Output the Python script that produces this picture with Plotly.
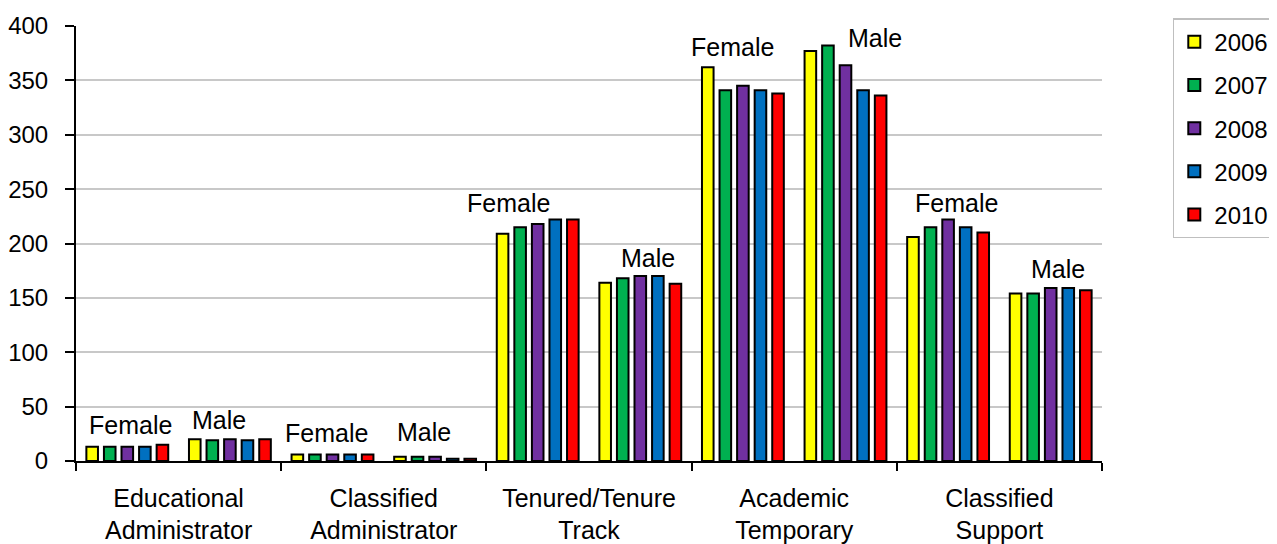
import plotly.graph_objects as go

# Data
categories = ["Educational<br>Administrator", "Classified<br>Administrator",
              "Tenured/Tenure<br>Track", "Academic<br>Temporary", "Classified<br>Support"]
genders = ["Female", "Male"]
years = ["2006", "2007", "2008", "2009", "2010"]

# one value per (category, gender) group, in order F, M, F, M, ...
v2006 = [13, 20, 6, 4, 209, 164, 362, 377, 206, 154]
v2007 = [13, 19, 6, 4, 215, 168, 341, 382, 215, 154]
v2008 = [13, 20, 6, 4, 218, 170, 345, 364, 222, 159]
v2009 = [13, 19, 6, 2, 222, 170, 341, 341, 215, 159]
v2010 = [15, 20, 6, 2, 222, 163, 338, 336, 210, 157]

series = [v2006, v2007, v2008, v2009, v2010]
colors = ["#FFFF00", "#00B050", "#7030A0", "#0070C0", "#FF0000"]

FONT = "Liberation Sans, Arial, sans-serif"
FS = 24

# label nudges (px) so the Female/Male texts sit like the original
label_dx = [3, -11, -6, -11, -29, 8, -10, 29, 8, 7]
label_dy = [20, 19, 21, 25, 17, 18, 20, 8, 17, 19]

groups = list(range(len(v2006)))

fig = go.Figure()
for i, (yr, vals) in enumerate(zip(years, series)):
    fig.add_bar(
        x=groups, y=vals, name=yr,
        marker=dict(color=colors[i], line=dict(color="black", width=2)),
        legendgroup=yr,
    )

for g in groups:
    top = max(s[g] for s in series)
    fig.add_annotation(
        x=g, y=top, text=genders[g % 2], showarrow=False,
        xref="x", yref="y", yanchor="middle",
        xshift=label_dx[g], yshift=label_dy[g],
        font=dict(family=FONT, size=25, color="black"),
    )

# page body adds an 8px offset, margins are trimmed to compensate
fig.update_layout(
    width=1277, height=544,
    margin=dict(l=68, r=181, t=10, b=91),
    paper_bgcolor="white", plot_bgcolor="white",
    barmode="group", bargap=0.144, bargroupgap=0.34,
    font=dict(family=FONT, size=FS, color="black"),
    legend=dict(
        x=1.069, y=1.018, xanchor="left", yanchor="top",
        bordercolor="#BFBFBF", borderwidth=1.5,
        font=dict(family=FONT, size=FS),
        tracegroupgap=9,
    ),
)

fig.update_xaxes(
    range=[-0.5, 9.5], automargin=False,
    tickvals=[0.5, 2.5, 4.5, 6.5, 8.5], ticktext=categories,
    ticks="", ticklabelstandoff=14,
    showline=True, linecolor="black", linewidth=1.5,
    showgrid=False, zeroline=False,
    minor=dict(ticks="outside", tick0=-0.5, dtick=2, ticklen=8,
               tickcolor="black", tickwidth=1.5, showgrid=False),
    tickfont=dict(family=FONT, size=25),
)
fig.update_yaxes(
    range=[0, 400], dtick=50, automargin=False,
    ticks="outside", ticklen=9, tickcolor="black", tickwidth=1.5,
    ticklabelstandoff=12,
    showline=True, linecolor="black", linewidth=2,
    showgrid=True, gridcolor="#C8C8C8", gridwidth=1.5,
    zeroline=False,
    tickfont=dict(family=FONT, size=FS),
)

fig.write_html("out.html")
